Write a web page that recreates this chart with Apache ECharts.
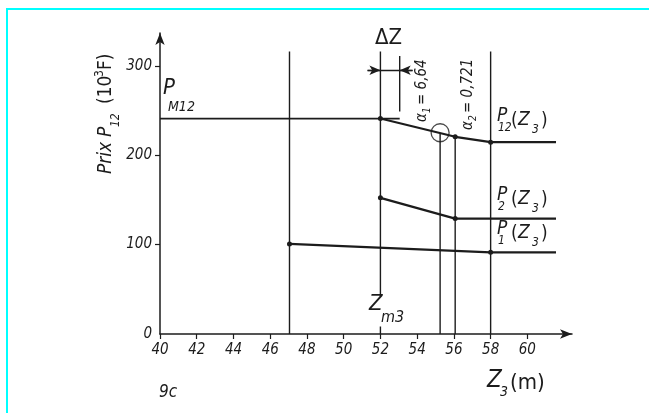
<!DOCTYPE html>
<html>
<head>
<meta charset="utf-8">
<script src="https://cdn.jsdelivr.net/npm/echarts@6/dist/echarts.min.js"></script>
<style>
  html, body { margin: 0; padding: 0; background: #fff; }
  #chart { width: 649px; height: 413px; }
</style>
</head>
<body>
<div id="chart"></div>
<script>
// axis ticks
const xTicks = [40, 42, 44, 46, 48, 50, 52, 54, 56, 58, 60];
const yTicks = [0, 100, 200, 300];

// price curves, [Z3 (m), price (10^3 F)]
const priceM12 = [[40, 241], [53.05, 241]];
const price12 = [[52, 241], [56.07, 220.6], [58, 214.6], [61.56, 214.6]];
const price2 = [[52, 152.3], [56.07, 129.1], [61.56, 129.1]];
const price1 = [[47.05, 100.8], [58, 91.4], [61.56, 91.4]];
// which points carry a dot
const dots12 = [0, 1, 2];
const dots2 = [0, 1];
const dots1 = [0, 1];

// vertical construction lines: [z, from, to]
const verticals = [
  [47.05, 0, 316],
  [52, 42, 316],
  [52, 0, 8.5],
  [55.25, 0, 224],
  [56.07, 0, 220.6],
  [58, 0, 316],
  [53.05, 249, 311]
];
// delta Z dimension: left end, right end, level, inner tips
const deltaZ = [51.3, 53.75, 295];
const deltaTips = [52, 53.05];
const circleAt = [55.25, 225.1];

const ink = '#1c1c1c';
const fam = '"DejaVu Sans Condensed", "DejaVu Sans", sans-serif';

const chart = echarts.init(document.getElementById('chart'));

// a curve with dots only on some points
const curve = (name, pts, dotIdx) => ({
  type: 'line',
  name: name,
  data: pts.map((p, i) => ({
    value: p,
    symbol: dotIdx.includes(i) ? 'circle' : 'none',
    symbolSize: 5
  })),
  showAllSymbol: true,
  lineStyle: { color: ink, width: 2.2 },
  itemStyle: { color: ink },
  silent: true
});

const seg = (pts, w) => ({
  type: 'line',
  data: pts,
  symbol: 'none',
  lineStyle: { color: ink, width: w },
  silent: true
});

const series = [
  curve('P12', price12, dots12),
  curve('P2', price2, dots2),
  curve('P1', price1, dots1),
  Object.assign(seg(priceM12, 1.8), {
    markLine: {
      silent: true,
      symbol: ['none', 'arrow'],
      symbolSize: [7, 11],
      label: { show: false },
      lineStyle: { color: ink, width: 1.3, type: 'solid' },
      data: [
        [{ coord: [deltaZ[0], deltaZ[2]] }, { coord: [deltaTips[0], deltaZ[2]] }],
        [{ coord: [deltaZ[1], deltaZ[2]] }, { coord: [deltaTips[1], deltaZ[2]] }],
        [{ coord: [deltaZ[0], deltaZ[2]], symbol: 'none' }, { coord: [deltaZ[1], deltaZ[2]], symbol: 'none' }]
      ]
    }
  })
];
verticals.forEach((v) => {
  series.push(seg([[v[0], v[1]], [v[0], v[2]]], 1.4));
});
series.push({
  type: 'scatter',
  data: [circleAt],
  symbol: 'circle',
  symbolSize: 18,
  itemStyle: { color: 'rgba(0,0,0,0)', borderColor: ink, borderWidth: 1.3 },
  silent: true
});

// plain text helper (pixel placed annotations)
const txt = (x, y, text, size, italic, extra) => Object.assign({
  type: 'text',
  x: x,
  y: y,
  silent: true,
  style: {
    text: text,
    fill: ink,
    fontSize: size,
    fontFamily: fam,
    fontStyle: italic ? 'italic' : 'normal',
    verticalAlign: 'middle',
    align: 'left'
  }
}, extra || {});

// label like P_12(Z_3), row centred on cy
const pLabel = (x, cy, sub) => [
  txt(x, cy - 5, 'P', 19, true),
  txt(x + 1, cy + 7, sub, 12, true),
  txt(x + 14, cy, '(', 19, false),
  txt(x + 21, cy - 1, 'Z', 19, true),
  txt(x + 35, cy + 9, '3', 12, true),
  txt(x + 44, cy, ')', 19, false)
];

const graphic = [
  { type: 'line', silent: true, shape: { x1: 7, y1: 9, x2: 649, y2: 9 }, style: { stroke: '#00ffff', lineWidth: 2 } },
  { type: 'line', silent: true, shape: { x1: 7, y1: 8, x2: 7, y2: 413 }, style: { stroke: '#00ffff', lineWidth: 2 } },
  txt(375, 38, 'ΔZ', 22, false),
  txt(163, 88, 'P', 22, true),
  txt(168, 107, 'M12', 14, true),
  ...pLabel(497, 121, '12'),
  ...pLabel(497, 200, '2'),
  ...pLabel(497, 234, '1'),
  txt(487, 381, 'Z', 24, true),
  txt(500, 392, '3', 14, true),
  txt(510, 383, '(m)', 22, false),
  txt(369, 304, 'Z', 22, true),
  txt(381, 318, 'm3', 16, true),
  txt(159, 393, '9c', 17, true),
  {
    type: 'group', x: 106, y: 174, rotation: Math.PI / 2, silent: true,
    children: [
      txt(0, 0, 'Prix', 19, true),
      txt(37, 0, 'P', 19, true),
      txt(47, 10, '12', 12, true),
      txt(70, 0, '(10', 19, false),
      txt(97, -6, '3', 12, false),
      txt(104, 0, 'F)', 19, false)
    ]
  },
  {
    type: 'group', x: 422, y: 122, rotation: Math.PI / 2, silent: true,
    children: [
      txt(0, 0, 'α', 15, true),
      txt(9, 5, '1', 10, true),
      txt(17, 0, '= 6,64', 15, true)
    ]
  },
  {
    type: 'group', x: 468, y: 130, rotation: Math.PI / 2, silent: true,
    children: [
      txt(0, 0, 'α', 15, true),
      txt(9, 5, '2', 10, true),
      txt(17, 0, '= 0,721', 15, true)
    ]
  }
];

const option = {
  animation: false,
  backgroundColor: '#fff',
  grid: { left: 160, right: 77, top: 33, bottom: 79 },
  xAxis: {
    type: 'value',
    min: 40,
    max: 62.43,
    interval: 2,
    axisLine: { onZero: false, symbol: ['none', 'arrow'], symbolSize: [7, 12], lineStyle: { color: ink, width: 1.5 } },
    axisTick: { show: true, customValues: xTicks, length: 5, lineStyle: { color: ink, width: 1.2 } },
    axisLabel: { customValues: xTicks, margin: 9, color: ink, fontSize: 15, fontStyle: 'italic', fontFamily: fam },
    splitLine: { show: false }
  },
  yAxis: {
    type: 'value',
    min: 0,
    max: 336.7,
    axisLine: { show: true, onZero: false, symbol: ['none', 'arrow'], symbolSize: [7, 12], lineStyle: { color: ink, width: 1.5 } },
    axisTick: { show: true, customValues: [100, 200, 300], length: 5, lineStyle: { color: ink, width: 1.2 } },
    axisLabel: { customValues: yTicks, margin: 8, color: ink, fontSize: 15, fontStyle: 'italic', fontFamily: fam },
    splitLine: { show: false }
  },
  series: series,
  graphic: graphic
};
chart.setOption(option);
</script>
</body>
</html>
